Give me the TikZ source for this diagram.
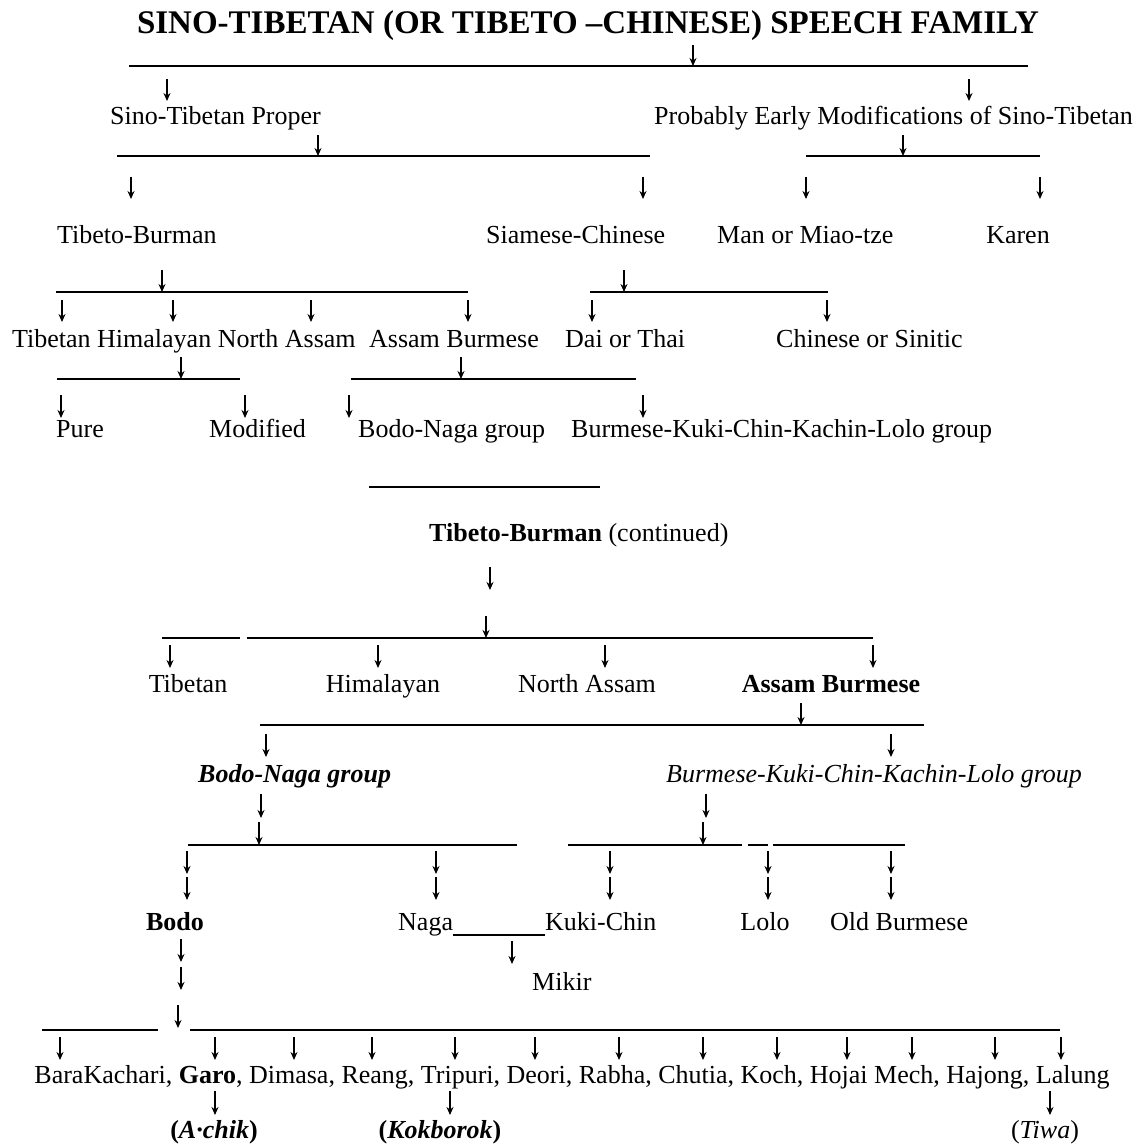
\documentclass[tikz,border=0pt]{standalone}
\usepackage{fontspec}
\setmainfont{Liberation Serif}
\usetikzlibrary{arrows.meta}
\begin{document}
\begin{tikzpicture}[x=1bp,y=-1bp,
  lbl/.style={inner sep=0pt, anchor=base, font=\fontsize{26bp}{30bp}\selectfont},
  lblw/.style={lbl, anchor=base west},
  hline/.style={line width=1.3bp},
  darr/.style={line width=1.4bp, -{Stealth[length=8bp,width=7bp]}}]
\newcommand\dar[3]{\draw[darr] (#1,#2) -- (#1,#3);}
\newcommand\hl[3]{\draw[hline] (#1,#3) -- (#2,#3);}
\fill[white] (0,0) rectangle (1146,1146);
\useasboundingbox (0,0) rectangle (1146,1146);

% ---------- Part 1 ----------
\node[lbl, font=\fontsize{33bp}{36bp}\selectfont\bfseries] (title) at (588,33) {SINO-TIBETAN (OR TIBETO –CHINESE) SPEECH FAMILY};
\hl{129}{1028}{66} \dar{693}{45}{66}
\dar{167}{79}{101} \dar{969}{79}{101}
\node[lblw] (stp) at (110,124) {Sino-Tibetan Proper};
\node[lblw] (pem) at (654,124) {Probably Early Modifications of Sino-Tibetan};

\hl{117}{650}{156} \dar{318}{135}{156}
\hl{806}{1040}{156} \dar{903}{135}{156}
\dar{131}{177}{199} \dar{643}{177}{199} \dar{806}{177}{199} \dar{1040}{177}{199}
\node[lblw] (tb) at (57,243) {Tibeto-Burman};
\node[lblw] (sc) at (486,243) {Siamese-Chinese};
\node[lblw] (mm) at (717,243) {Man or Miao-tze};
\node[lbl] (kar) at (1018,243) {Karen};

\hl{56}{468}{292} \dar{162}{270}{292}
\hl{590}{828}{292} \dar{624}{270}{292}
\dar{62}{300}{322} \dar{173}{300}{322} \dar{311}{300}{322} \dar{468}{300}{322}
\dar{592}{300}{322} \dar{827}{300}{322}
\node[lblw] (thna) at (12,347) {Tibetan Himalayan North Assam};
\node[lblw] (ab) at (369,347) {Assam Burmese};
\node[lblw] (dt) at (565,347) {Dai or Thai};
\node[lblw] (cs) at (776,347) {Chinese or Sinitic};

\hl{57}{240}{379} \dar{181}{357}{379}
\hl{351}{636}{379} \dar{461}{357}{379}
\dar{61}{395}{418} \dar{245}{395}{418} \dar{349}{395}{418} \dar{643}{395}{418}
\node[lblw] (pure) at (56,437) {Pure};
\node[lblw] (mod) at (209,437) {Modified};
\node[lblw] (bng) at (358,437) {Bodo-Naga group};
\node[lblw] (bkc) at (571,437) {Burmese-Kuki-Chin-Kachin-Lolo group};

% ---------- Part 2 ----------
\hl{369}{600}{487}
\node[lblw] (tbc) at (429,541) {\textbf{Tibeto-Burman} (continued)};
\dar{490}{567}{590}
\hl{162}{240}{638} \hl{247}{873}{638} \dar{486}{616}{638}
\dar{170}{645}{668} \dar{378}{645}{668} \dar{605}{645}{668} \dar{873}{645}{668}
\node[lbl] (tib2) at (188,692) {Tibetan};
\node[lbl] (him2) at (383,692) {Himalayan};
\node[lbl] (na2) at (587,692) {North Assam};
\node[lbl] (ab2) at (831,692) {\textbf{Assam Burmese}};

\hl{260}{924}{725} \dar{801}{703}{725}
\dar{266}{734}{757} \dar{891}{734}{757}
\node[lblw] (bng2) at (198,782) {\textbf{\textit{Bodo-Naga group}}};
\node[lblw] (bkc2) at (666,782) {\textit{Burmese-Kuki-Chin-Kachin-Lolo group}};
\dar{261}{794}{818} \dar{706}{794}{818}

\hl{188}{517}{845} \dar{259}{822}{845}
\hl{568}{742}{845} \hl{748}{768}{845} \hl{773}{905}{845} \dar{703}{822}{845}
\foreach \xx in {187,436,610,768,891} { \dar{\xx}{851}{874} \dar{\xx}{877}{900} }
\node[lbl] (bodo) at (175,930) {\textbf{Bodo}};
\node[lblw] (naga) at (398,930) {Naga};
\node[lblw] (kuki) at (545,930) {Kuki-Chin};
\node[lbl] (lolo) at (765,930) {Lolo};
\node[lblw] (ob) at (830,930) {Old Burmese};
\draw[hline] ([yshift=-5bp]naga.base east) -- ([yshift=-5bp]kuki.base west);
\dar{512}{941}{964}
\node[lblw] (mikir) at (532,990) {Mikir};
\dar{181}{939}{962} \dar{181}{967}{990}
\dar{178}{1005}{1028}
\hl{42}{158}{1030} \hl{190}{1060}{1030}
\foreach \xx in {60,215,294,372,455,535,619,703,777,847,912,995,1061} { \dar{\xx}{1037}{1060} }
\node[lbl] (list) at (572,1083) {BaraKachari, \textbf{Garo}, Dimasa, Reang, Tripuri, Deori, Rabha, Chutia, Koch, Hojai Mech, Hajong, Lalung};
\dar{215}{1091}{1115} \dar{450}{1091}{1115} \dar{1050}{1091}{1115}
\node[lbl] (achik) at (214,1138) {\textbf{(\textit{A·chik})}};
\node[lbl] (kok) at (440,1138) {\textbf{(\textit{Kokborok})}};
\node[lbl] (tiwa) at (1045,1138) {(\textit{Tiwa})};
\end{tikzpicture}
\end{document}
